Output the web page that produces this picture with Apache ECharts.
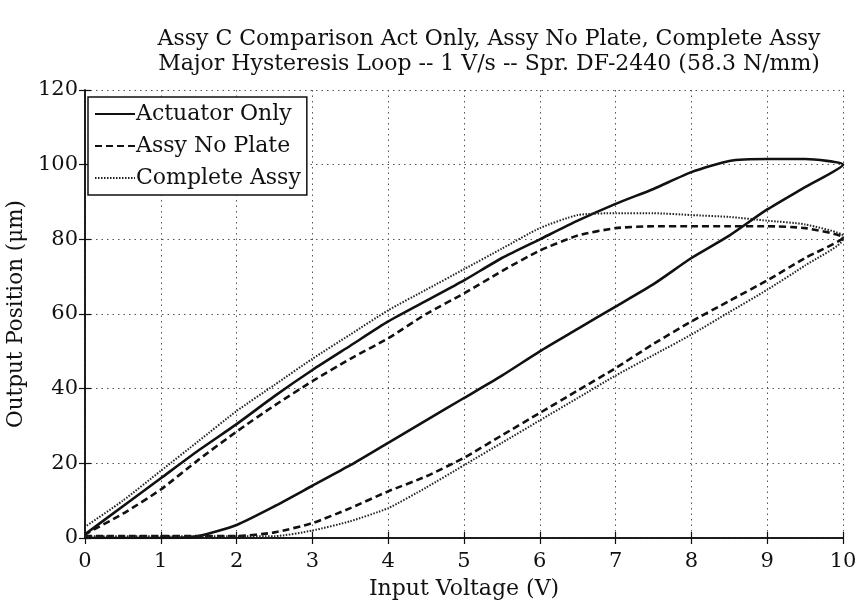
<!DOCTYPE html>
<html>
<head>
<meta charset="utf-8">
<script src="https://cdn.jsdelivr.net/npm/echarts@6/dist/echarts.min.js"></script>
<style>
html,body{margin:0;padding:0;background:#fff;}
#chart{width:859px;height:604px;}
</style>
</head>
<body>
<div id="chart"></div>
<script>
// Input voltage samples (V)
var voltage = [0,0.5,1,1.5,2,2.5,3,3.5,4,4.5,5,5.5,6,6.5,7,7.5,8,8.5,9,9.5,10];
// Actuator Only: rising and falling branches (um), indexed by voltage
var actUp   = [0,0,0,0.5,3.5,8.5,14,19.5,25.5,31.5,37.5,43.5,50,56,62,68,75,81,88,94,100];
var actDown = [1,8.5,16,23.5,30.5,38,45,51.5,58,63.5,69,75,80,85,89.5,93.5,98,101,101.5,101.5,100];
// Assy No Plate
var noPlateUp   = [0.5,0.5,0.5,0.5,0.5,1.5,4,8,12.5,16.5,21.5,27.5,33.5,39.5,45.5,52,58,63.5,69,75,80.5];
var noPlateDown = [1,6.5,13,21,28.5,35.5,42,48,53.5,60,65.5,71.5,77,81,83,83.5,83.5,83.5,83.5,83,80.5];
// Complete Assy
var completeUp   = [0.5,0.5,0.5,0.5,0.5,0.5,2,4.5,8,13.5,19.5,25.5,31.5,37.5,43.5,49,54.5,60.5,66.5,73,80];
var completeDown = [3,10,18,26,34,41,48,54.5,61,66.5,72,77.5,83,86.5,87,87,86.5,86,85,84,81];

var seriesNames = ['Actuator Only','Assy No Plate','Complete Assy'];
var xTicks = [0,1,2,3,4,5,6,7,8,9,10];
var yTicks = [0,20,40,60,80,100,120];

function loop(up, down){
  var d = voltage.map(function(v,i){return [v, up[i]];});
  for (var i = voltage.length-1; i >= 0; i--) d.push([voltage[i], down[i]]);
  return d;
}

var FONT = 'DejaVu Serif';
var chart = echarts.init(document.getElementById('chart'));
var axisCommonX = {
  type:'value', min:0, max:10, interval:1,
  axisLine:{show:true, lineStyle:{color:'#111', width:1.5}},
  axisTick:{show:true, inside:true, length:6, lineStyle:{color:'#111', width:1.2}},
  splitLine:{show:false}
};
var axisCommonY = {
  type:'value', min:0, max:120, interval:20,
  axisLine:{show:true, lineStyle:{color:'#111', width:1.5}},
  axisTick:{show:true, inside:true, length:6, lineStyle:{color:'#111', width:1.2}},
  splitLine:{show:false}
};
var option = {
  backgroundColor:'#fff',
  animation:false,
  title:{
    text:'Assy C Comparison Act Only, Assy No Plate, Complete Assy\nMajor Hysteresis Loop -- 1 V/s -- Spr. DF-2440 (58.3 N/mm)',
    left:484, top:22, textAlign:'center',
    textStyle:{fontFamily:FONT, fontSize:22, fontWeight:'normal', color:'#111', lineHeight:25}
  },
  grid:{left:85, right:16, top:90, bottom:66, show:false, containLabel:false, outerBoundsMode:'none'},
  legend:{
    orient:'vertical', left:88, top:97,
    data:seriesNames,
    backgroundColor:'#fff', borderColor:'#111', borderWidth:1.5, borderRadius:0,
    padding:[6,6,6,6], itemGap:10, itemWidth:40, itemHeight:22,
    itemStyle:{color:'rgba(0,0,0,0)', borderColor:'rgba(0,0,0,0)', borderWidth:0, opacity:0},
    textStyle:{fontFamily:FONT, fontSize:22, color:'#111', padding:[0,0,0,-4]}
  },
  xAxis:[
    Object.assign({}, axisCommonX, {
      position:'bottom',
      name:'Input Voltage (V)', nameLocation:'middle', nameGap:40,
      nameTextStyle:{fontFamily:FONT, fontSize:22, color:'#111'},
      axisLabel:{fontFamily:FONT, fontSize:21, color:'#111', margin:13,
        formatter:function(v){return xTicks.indexOf(v)>=0 ? String(v) : '';}},
      splitLine:{show:true, lineStyle:{color:'#555', type:[1.5,4], width:1}}
    }),
    Object.assign({}, axisCommonX, {position:'top', axisLabel:{show:false}})
  ],
  yAxis:[
    Object.assign({}, axisCommonY, {
      position:'left',
      name:'Output Position (\u03bcm)', nameLocation:'middle', nameGap:48,
      nameTextStyle:{fontFamily:FONT, fontSize:21.5, color:'#111'},
      axisLabel:{fontFamily:FONT, fontSize:21, color:'#111', margin:7,
        formatter:function(v){return yTicks.indexOf(v)>=0 ? String(v) : '';}},
      splitLine:{show:true, lineStyle:{color:'#555', type:[1.5,4], width:1}}
    }),
    Object.assign({}, axisCommonY, {position:'right', axisLabel:{show:false}})
  ],
  series:[
    {name:seriesNames[0], type:'line', data:loop(actUp, actDown), showSymbol:false, symbol:'none',
      smooth:0.2, lineStyle:{color:'#111', width:2.6, type:'solid'}, itemStyle:{color:'#111'}},
    {name:seriesNames[1], type:'line', data:loop(noPlateUp, noPlateDown), showSymbol:false, symbol:'none',
      smooth:0.2, lineStyle:{color:'#111', width:2.6, type:[7,4]}, itemStyle:{color:'#111'}},
    {name:seriesNames[2], type:'line', data:loop(completeUp, completeDown), showSymbol:false, symbol:'none',
      smooth:0.2, lineStyle:{color:'#222', width:2, type:[1.5,1.5]}, itemStyle:{color:'#222'}}
  ]
};
chart.setOption(option);
</script>
</body>
</html>
